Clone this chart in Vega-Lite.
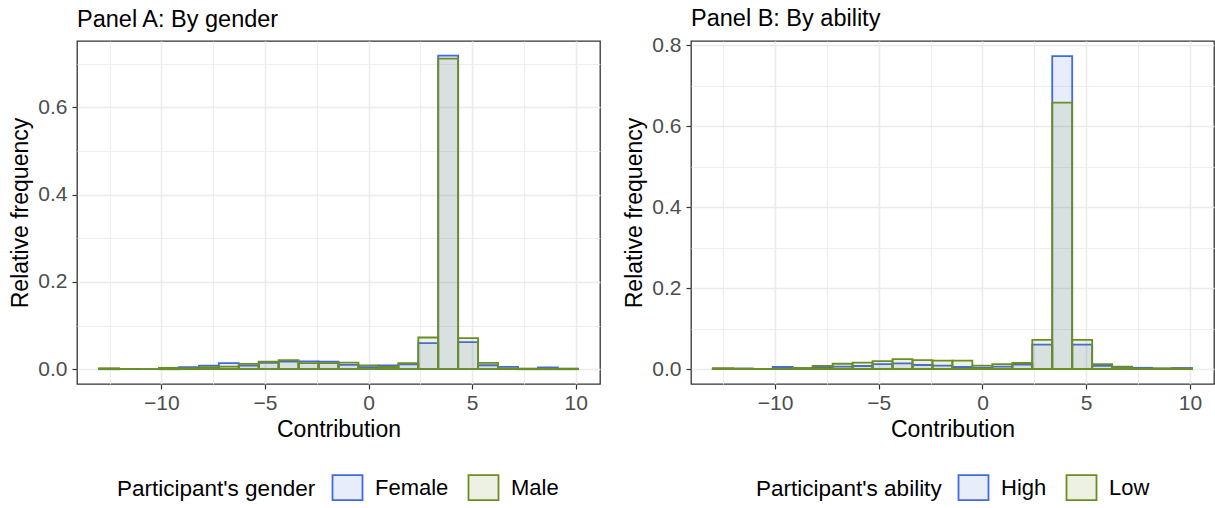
{
  "$schema": "https://vega.github.io/schema/vega-lite/v6.json",
  "background": "white",
  "padding": {"left": 9, "top": 5, "right": 0, "bottom": 0},
  "spacing": 22,
  "datasets": {
    "gender": [
      {"group": "Female", "bin_start": -13, "bin_end": -12.0375, "value": 0.001},
      {"group": "Female", "bin_start": -12.0375, "bin_end": -11.075, "value": 0.0005},
      {"group": "Female", "bin_start": -11.075, "bin_end": -10.1125, "value": 0.0003},
      {"group": "Female", "bin_start": -10.1125, "bin_end": -9.15, "value": 0.003},
      {"group": "Female", "bin_start": -9.15, "bin_end": -8.1875, "value": 0.0045},
      {"group": "Female", "bin_start": -8.1875, "bin_end": -7.225, "value": 0.008},
      {"group": "Female", "bin_start": -7.225, "bin_end": -6.2625, "value": 0.014},
      {"group": "Female", "bin_start": -6.2625, "bin_end": -5.3, "value": 0.008},
      {"group": "Female", "bin_start": -5.3, "bin_end": -4.3375, "value": 0.0145},
      {"group": "Female", "bin_start": -4.3375, "bin_end": -3.375, "value": 0.0175},
      {"group": "Female", "bin_start": -3.375, "bin_end": -2.4125, "value": 0.018},
      {"group": "Female", "bin_start": -2.4125, "bin_end": -1.45, "value": 0.017},
      {"group": "Female", "bin_start": -1.45, "bin_end": -0.4875, "value": 0.010},
      {"group": "Female", "bin_start": -0.4875, "bin_end": 0.475, "value": 0.0045},
      {"group": "Female", "bin_start": 0.475, "bin_end": 1.4375, "value": 0.0085},
      {"group": "Female", "bin_start": 1.4375, "bin_end": 2.4, "value": 0.011},
      {"group": "Female", "bin_start": 2.4, "bin_end": 3.3625, "value": 0.0595},
      {"group": "Female", "bin_start": 3.3625, "bin_end": 4.325, "value": 0.7185},
      {"group": "Female", "bin_start": 4.325, "bin_end": 5.2875, "value": 0.0618},
      {"group": "Female", "bin_start": 5.2875, "bin_end": 6.25, "value": 0.009},
      {"group": "Female", "bin_start": 6.25, "bin_end": 7.2125, "value": 0.0053},
      {"group": "Female", "bin_start": 7.2125, "bin_end": 8.175, "value": 0.001},
      {"group": "Female", "bin_start": 8.175, "bin_end": 9.1375, "value": 0.004},
      {"group": "Female", "bin_start": 9.1375, "bin_end": 10.1, "value": 0.001},
      {"group": "Male", "bin_start": -13, "bin_end": -12.0375, "value": 0.002},
      {"group": "Male", "bin_start": -12.0375, "bin_end": -11.075, "value": 0.0005},
      {"group": "Male", "bin_start": -11.075, "bin_end": -10.1125, "value": 0.0003},
      {"group": "Male", "bin_start": -10.1125, "bin_end": -9.15, "value": 0.003},
      {"group": "Male", "bin_start": -9.15, "bin_end": -8.1875, "value": 0.002},
      {"group": "Male", "bin_start": -8.1875, "bin_end": -7.225, "value": 0.0045},
      {"group": "Male", "bin_start": -7.225, "bin_end": -6.2625, "value": 0.006},
      {"group": "Male", "bin_start": -6.2625, "bin_end": -5.3, "value": 0.012},
      {"group": "Male", "bin_start": -5.3, "bin_end": -4.3375, "value": 0.017},
      {"group": "Male", "bin_start": -4.3375, "bin_end": -3.375, "value": 0.0205},
      {"group": "Male", "bin_start": -3.375, "bin_end": -2.4125, "value": 0.014},
      {"group": "Male", "bin_start": -2.4125, "bin_end": -1.45, "value": 0.014},
      {"group": "Male", "bin_start": -1.45, "bin_end": -0.4875, "value": 0.015},
      {"group": "Male", "bin_start": -0.4875, "bin_end": 0.475, "value": 0.0085},
      {"group": "Male", "bin_start": 0.475, "bin_end": 1.4375, "value": 0.005},
      {"group": "Male", "bin_start": 1.4375, "bin_end": 2.4, "value": 0.014},
      {"group": "Male", "bin_start": 2.4, "bin_end": 3.3625, "value": 0.0725},
      {"group": "Male", "bin_start": 3.3625, "bin_end": 4.325, "value": 0.7117},
      {"group": "Male", "bin_start": 4.325, "bin_end": 5.2875, "value": 0.071},
      {"group": "Male", "bin_start": 5.2875, "bin_end": 6.25, "value": 0.0145},
      {"group": "Male", "bin_start": 6.25, "bin_end": 7.2125, "value": 0.0015},
      {"group": "Male", "bin_start": 7.2125, "bin_end": 8.175, "value": 0.001},
      {"group": "Male", "bin_start": 8.175, "bin_end": 9.1375, "value": 0.001},
      {"group": "Male", "bin_start": 9.1375, "bin_end": 10.1, "value": 0.001}
    ],
    "ability": [
      {"group": "High", "bin_start": -13, "bin_end": -12.0375, "value": 0.001},
      {"group": "High", "bin_start": -12.0375, "bin_end": -11.075, "value": 0.001},
      {"group": "High", "bin_start": -11.075, "bin_end": -10.1125, "value": 0.0003},
      {"group": "High", "bin_start": -10.1125, "bin_end": -9.15, "value": 0.005},
      {"group": "High", "bin_start": -9.15, "bin_end": -8.1875, "value": 0.002},
      {"group": "High", "bin_start": -8.1875, "bin_end": -7.225, "value": 0.003},
      {"group": "High", "bin_start": -7.225, "bin_end": -6.2625, "value": 0.006},
      {"group": "High", "bin_start": -6.2625, "bin_end": -5.3, "value": 0.0074},
      {"group": "High", "bin_start": -5.3, "bin_end": -4.3375, "value": 0.0123},
      {"group": "High", "bin_start": -4.3375, "bin_end": -3.375, "value": 0.014},
      {"group": "High", "bin_start": -3.375, "bin_end": -2.4125, "value": 0.0099},
      {"group": "High", "bin_start": -2.4125, "bin_end": -1.45, "value": 0.0082},
      {"group": "High", "bin_start": -1.45, "bin_end": -0.4875, "value": 0.005},
      {"group": "High", "bin_start": -0.4875, "bin_end": 0.475, "value": 0.003},
      {"group": "High", "bin_start": 0.475, "bin_end": 1.4375, "value": 0.0057},
      {"group": "High", "bin_start": 1.4375, "bin_end": 2.4, "value": 0.0107},
      {"group": "High", "bin_start": 2.4, "bin_end": 3.3625, "value": 0.06},
      {"group": "High", "bin_start": 3.3625, "bin_end": 4.325, "value": 0.7727},
      {"group": "High", "bin_start": 4.325, "bin_end": 5.2875, "value": 0.06},
      {"group": "High", "bin_start": 5.2875, "bin_end": 6.25, "value": 0.008},
      {"group": "High", "bin_start": 6.25, "bin_end": 7.2125, "value": 0.0025},
      {"group": "High", "bin_start": 7.2125, "bin_end": 8.175, "value": 0.003},
      {"group": "High", "bin_start": 8.175, "bin_end": 9.1375, "value": 0.001},
      {"group": "High", "bin_start": 9.1375, "bin_end": 10.1, "value": 0.0025},
      {"group": "Low", "bin_start": -13, "bin_end": -12.0375, "value": 0.002},
      {"group": "Low", "bin_start": -12.0375, "bin_end": -11.075, "value": 0.001},
      {"group": "Low", "bin_start": -11.075, "bin_end": -10.1125, "value": 0.0003},
      {"group": "Low", "bin_start": -10.1125, "bin_end": -9.15, "value": 0.001},
      {"group": "Low", "bin_start": -9.15, "bin_end": -8.1875, "value": 0.0025},
      {"group": "Low", "bin_start": -8.1875, "bin_end": -7.225, "value": 0.0074},
      {"group": "Low", "bin_start": -7.225, "bin_end": -6.2625, "value": 0.013},
      {"group": "Low", "bin_start": -6.2625, "bin_end": -5.3, "value": 0.0156},
      {"group": "Low", "bin_start": -5.3, "bin_end": -4.3375, "value": 0.0197},
      {"group": "Low", "bin_start": -4.3375, "bin_end": -3.375, "value": 0.0246},
      {"group": "Low", "bin_start": -3.375, "bin_end": -2.4125, "value": 0.022},
      {"group": "Low", "bin_start": -2.4125, "bin_end": -1.45, "value": 0.0205},
      {"group": "Low", "bin_start": -1.45, "bin_end": -0.4875, "value": 0.0205},
      {"group": "Low", "bin_start": -0.4875, "bin_end": 0.475, "value": 0.0082},
      {"group": "Low", "bin_start": 0.475, "bin_end": 1.4375, "value": 0.0123},
      {"group": "Low", "bin_start": 1.4375, "bin_end": 2.4, "value": 0.0148},
      {"group": "Low", "bin_start": 2.4, "bin_end": 3.3625, "value": 0.072},
      {"group": "Low", "bin_start": 3.3625, "bin_end": 4.325, "value": 0.6577},
      {"group": "Low", "bin_start": 4.325, "bin_end": 5.2875, "value": 0.072},
      {"group": "Low", "bin_start": 5.2875, "bin_end": 6.25, "value": 0.0123},
      {"group": "Low", "bin_start": 6.25, "bin_end": 7.2125, "value": 0.0057},
      {"group": "Low", "bin_start": 7.2125, "bin_end": 8.175, "value": 0.001},
      {"group": "Low", "bin_start": 8.175, "bin_end": 9.1375, "value": 0.0016},
      {"group": "Low", "bin_start": 9.1375, "bin_end": 10.1, "value": 0.001}
    ]
  },
  "config": {
    "font": "Liberation Sans",
    "view": {"stroke": "#333333", "strokeWidth": 1.3},
    "axis": {
      "domain": false,
      "labelFontSize": 21,
      "labelColor": "#4d4d4d",
      "labelPadding": 5,
      "titleFontSize": 23,
      "titleFontWeight": "normal",
      "titleColor": "#000000",
      "tickColor": "#333333",
      "tickSize": 5,
      "tickWidth": 1.2,
      "gridColor": "#ebebeb"
    },
    "legend": {
      "orient": "none",
      "direction": "horizontal",
      "titleOrient": "left",
      "titleFontSize": 22.5,
      "titleFontWeight": "normal",
      "titleColor": "#000000",
      "titleLimit": 400,
      "titlePadding": 18,
      "labelFontSize": 22,
      "labelColor": "#000000",
      "labelOffset": 14,
      "columnPadding": 15,
      "symbolType": "M-1.2,-1H1.2V1H-1.2Z",
      "symbolSize": 625,
      "symbolStrokeWidth": 1.8
    },
    "title": {"fontSize": 23.5, "fontWeight": "normal", "anchor": "start", "frame": "group", "color": "#000000"}
  },
  "resolve": {
    "scale": {"fill": "independent", "stroke": "independent"},
    "legend": {"fill": "independent", "stroke": "independent"}
  },
  "hconcat": [
    {
      "width": 523,
      "height": 343,
      "title": {"text": "Panel A: By gender", "offset": 10},
      "data": {"name": "gender"},
      "mark": {"type": "bar", "strokeWidth": 1.8},
      "encoding": {
        "x": {
          "field": "bin_start", "type": "quantitative", "title": "Contribution",
          "scale": {"domain": [-14.07, 11.17], "nice": false, "zero": false},
          "axis": {
            "values": [-12.5, -10, -7.5, -5, -2.5, 0, 2.5, 5, 7.5, 10],
            "labelExpr": "datum.value % 5 == 0 ? (datum.value < 0 ? '−' + abs(datum.value) : '' + datum.value) : ''",
            "tickOpacity": {"condition": {"test": "datum.value % 5 != 0", "value": 0}, "value": 1},
            "gridWidth": {"condition": {"test": "datum.value % 5 != 0", "value": 0.9}, "value": 1.6},
            "labelPadding": 3,
            "titlePadding": 5
          }
        },
        "x2": {"field": "bin_end"},
        "y": {
          "field": "value", "type": "quantitative", "title": "Relative frequency",
          "scale": {"domain": [-0.034, 0.752], "nice": false, "zero": false},
          "axis": {
            "values": [0, 0.1, 0.2, 0.3, 0.4, 0.5, 0.6, 0.7],
            "labelExpr": "round(datum.value * 10) % 2 == 0 ? format(datum.value, '.1f') : ''",
            "tickOpacity": {"condition": {"test": "round(datum.value * 10) % 2 != 0", "value": 0}, "value": 1},
            "gridWidth": {"condition": {"test": "round(datum.value * 10) % 2 != 0", "value": 0.9}, "value": 1.6},
            "titlePadding": 5
          }
        },
        "y2": {"datum": 0},
        "fill": {
          "field": "group", "type": "nominal", "title": "Participant's gender",
          "scale": {"domain": ["Female", "Male"], "range": ["rgba(65,105,225,0.12)", "rgba(107,142,35,0.12)"]},
          "legend": {"legendX": 40, "legendY": 433}
        },
        "stroke": {
          "field": "group", "type": "nominal", "title": "Participant's gender",
          "scale": {"domain": ["Female", "Male"], "range": ["#4169E1", "#6B8E23"]},
          "legend": {"legendX": 40, "legendY": 433}
        }
      }
    },
    {
      "width": 523,
      "height": 343,
      "title": {"text": "Panel B: By ability", "offset": 4},
      "data": {"name": "ability"},
      "mark": {"type": "bar", "strokeWidth": 1.8},
      "encoding": {
        "x": {
          "field": "bin_start", "type": "quantitative", "title": "Contribution",
          "scale": {"domain": [-14.05, 11.16], "nice": false, "zero": false},
          "axis": {
            "values": [-12.5, -10, -7.5, -5, -2.5, 0, 2.5, 5, 7.5, 10],
            "labelExpr": "datum.value % 5 == 0 ? (datum.value < 0 ? '−' + abs(datum.value) : '' + datum.value) : ''",
            "tickOpacity": {"condition": {"test": "datum.value % 5 != 0", "value": 0}, "value": 1},
            "gridWidth": {"condition": {"test": "datum.value % 5 != 0", "value": 0.9}, "value": 1.6},
            "labelPadding": 3,
            "titlePadding": 5
          }
        },
        "x2": {"field": "bin_end"},
        "y": {
          "field": "value", "type": "quantitative", "title": "Relative frequency",
          "scale": {"domain": [-0.037, 0.81], "nice": false, "zero": false},
          "axis": {
            "values": [0, 0.1, 0.2, 0.3, 0.4, 0.5, 0.6, 0.7, 0.8],
            "labelExpr": "round(datum.value * 10) % 2 == 0 ? format(datum.value, '.1f') : ''",
            "tickOpacity": {"condition": {"test": "round(datum.value * 10) % 2 != 0", "value": 0}, "value": 1},
            "gridWidth": {"condition": {"test": "round(datum.value * 10) % 2 != 0", "value": 0.9}, "value": 1.6},
            "titlePadding": 5
          }
        },
        "y2": {"datum": 0},
        "fill": {
          "field": "group", "type": "nominal", "title": "Participant's ability",
          "scale": {"domain": ["High", "Low"], "range": ["rgba(65,105,225,0.12)", "rgba(107,142,35,0.12)"]},
          "legend": {"legendX": 65, "legendY": 433}
        },
        "stroke": {
          "field": "group", "type": "nominal", "title": "Participant's ability",
          "scale": {"domain": ["High", "Low"], "range": ["#4169E1", "#6B8E23"]},
          "legend": {"legendX": 65, "legendY": 433}
        }
      }
    }
  ]
}
